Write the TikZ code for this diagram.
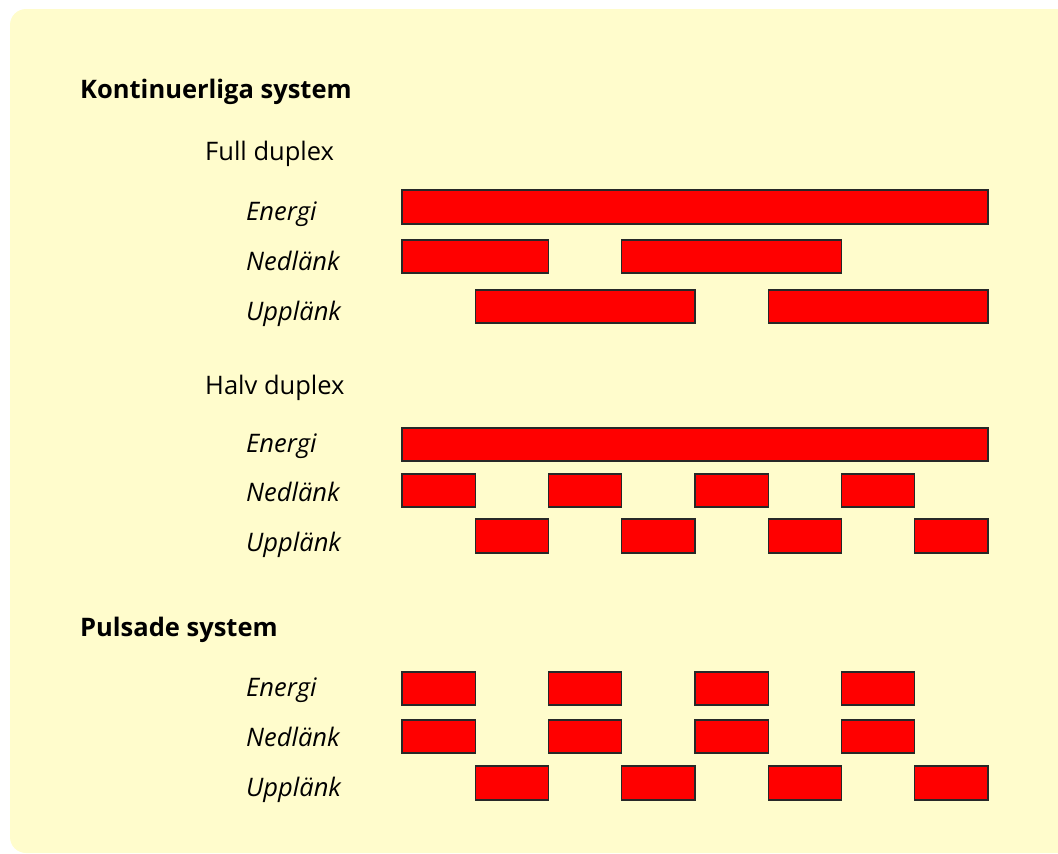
\documentclass[tikz,border=0pt]{standalone}
\usepackage{fontspec}
\setmainfont{Open Sans}
\definecolor{bgyellow}{RGB}{255,252,204}
\definecolor{barred}{RGB}{255,0,0}
\definecolor{barline}{RGB}{40,40,40}
\begin{document}
\begin{tikzpicture}[x=1pt,y=-1pt,
  bar/.style={draw=barline,fill=barred,line width=1.4pt},
  head/.style={anchor=base west,inner sep=0pt,font=\fontsize{25.5}{30}\selectfont\bfseries},
  sub/.style={anchor=base west,inner sep=0pt,font=\fontsize{25.5}{30}\selectfont},
  lab/.style={anchor=base west,inner sep=0pt,font=\fontsize{25.5}{30}\selectfont\itshape}]
\useasboundingbox (0,0) rectangle (1058,854);
\fill[bgyellow,rounded corners=16pt] (10,9) rectangle (1080,853);
\pgfmathsetmacro{\u}{73.25}
\def\xa{402}
% headings
\node[head] (h1) at (80,98) {Kontinuerliga system};
\node[sub] (h2) at (205,160) {Full duplex};
\node[lab] (l1) at (246,220.5) {Energi};
\node[lab] (l2) at (246,270.5) {Nedlänk};
\node[lab] (l3) at (246,320) {Upplänk};
\node[sub] (h3) at (205,394) {Halv duplex};
\node[lab] (l4) at (246,452.5) {Energi};
\node[lab] (l5) at (246,501.5) {Nedlänk};
\node[lab] (l6) at (246,551.5) {Upplänk};
\node[head] (h4) at (80,636) {Pulsade system};
\node[lab] (l7) at (246,696.5) {Energi};
\node[lab] (l8) at (246,746.5) {Nedlänk};
\node[lab] (l9) at (246,796.5) {Upplänk};
% full duplex
\draw[bar] (\xa,190) rectangle (\xa+8*\u,224);
\draw[bar] (\xa,240) rectangle (\xa+2*\u,273);
\draw[bar] (\xa+3*\u,240) rectangle (\xa+6*\u,273);
\draw[bar] (\xa+1*\u,290) rectangle (\xa+4*\u,323);
\draw[bar] (\xa+5*\u,290) rectangle (\xa+8*\u,323);
% half duplex
\draw[bar] (\xa,428) rectangle (\xa+8*\u,461);
\foreach \k in {0,2,4,6}{
  \draw[bar] (\xa+\k*\u,474) rectangle (\xa+\k*\u+\u,507);
  \draw[bar] (\xa+\k*\u+\u,519) rectangle (\xa+\k*\u+2*\u,553);
}
% pulsed
\foreach \k in {0,2,4,6}{
  \draw[bar] (\xa+\k*\u,672) rectangle (\xa+\k*\u+\u,705);
  \draw[bar] (\xa+\k*\u,720) rectangle (\xa+\k*\u+\u,753);
  \draw[bar] (\xa+\k*\u+\u,766) rectangle (\xa+\k*\u+2*\u,800);
}
\end{tikzpicture}
\end{document}
